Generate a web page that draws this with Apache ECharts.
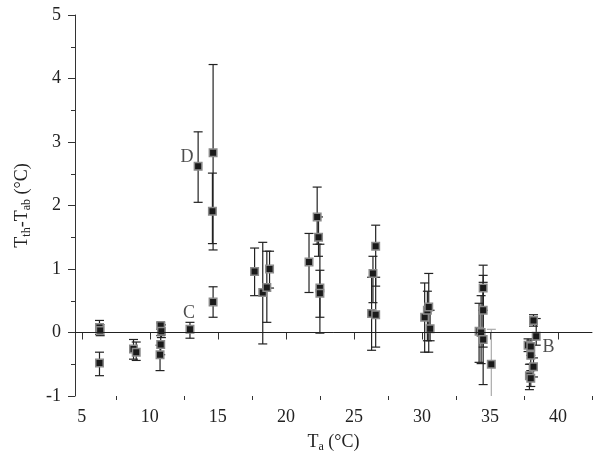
<!DOCTYPE html>
<html>
<head>
<meta charset="utf-8">
<script src="https://cdn.jsdelivr.net/npm/echarts@6/dist/echarts.min.js"></script>
<style>
  html, body { margin: 0; padding: 0; background: #fff; }
  #main { width: 601px; height: 465px; }
</style>
</head>
<body>
<div id="main"></div>
<script>
// ambient temperature (x)
var ta = [6.3, 6.35, 6.3, 8.8, 9.0, 10.8, 10.85, 10.8, 10.75, 12.95,
          13.55, 14.65, 14.6, 14.65, 17.7, 18.3, 18.6, 18.8, 21.7, 22.3,
          22.4, 22.5, 22.5, 26.6, 26.4, 26.3, 26.6, 30.2, 30.4, 30.5,
          30.6, 34.5, 34.5, 34.2, 34.35, 34.5, 38.2, 38.4, 37.8, 38.0,
          38.0, 38.2, 37.9, 38.0];
// Tth - Tab
var dT = [0.08, 0.03, -0.48, -0.26, -0.31, 0.11, 0.02, -0.19, -0.35, 0.05,
          2.62, 2.83, 1.91, 0.48, 0.96, 0.63, 0.71, 1.0, 1.11, 1.82,
          1.5, 0.7, 0.62, 1.36, 0.93, 0.30, 0.28, 0.24, 0.35, 0.40,
          0.06, 0.70, 0.35, 0.02, 0.00, -0.11, 0.19, -0.06, -0.20, -0.22,
          -0.36, -0.54, -0.68, -0.72];
// error bar ends
var errHigh = [0.19, 0.12, -0.31, -0.11, -0.15, 0.15, 0.12, -0.05, -0.2, 0.16,
               3.16, 4.22, 2.51, 0.72, 1.33, 1.42, 1.28, 1.28, 1.56, 2.29,
               1.82, 0.98, 1.39, 1.69, 1.2, 0.87, 0.87, 0.78, 0.65, 0.93,
               0.35, 1.06, 0.90, 0.46, 0.58, 0.79, 0.28, 0.22, -0.1, -0.12,
               -0.2, -0.4, -0.5, -0.6];
var errLow = [-0.03, -0.05, -0.68, -0.42, -0.44, 0.05, -0.08, -0.35, -0.6, -0.09,
              2.05, 1.3, 1.4, 0.24, 0.58, -0.18, 0.16, 0.7, 0.63, 1.39,
              1.2, 0.24, -0.01, 0.73, 0.47, -0.28, -0.23, -0.31, -0.13, -0.31,
              -0.13, 0.35, -0.82, -0.47, -0.49, -0.23, 0.1, -0.2, -0.3, -0.36,
              -0.5, -0.7, -0.9, -0.85];
// the one point drawn with a grey bar
var grayTa = [35.1];
var grayDT = [-0.5];
var grayHigh = [0.05];
var grayLow = [-1.3];
// point labels
var labelText = ['C', 'D', 'B'];
var labelTa = [12.88, 12.74, 39.3];
var labelDT = [0.30, 2.76, -0.24];

var xTicks = [5, 10, 15, 20, 25, 30, 35, 40];
var xMinorTicks = [7.5, 12.5, 17.5, 22.5, 27.5, 32.5, 37.5, 42.5];

var font = 'Liberation Serif';

function buildErr(xs, hi, lo) {
    var out = [];
    for (var i = 0; i < xs.length; i++) out.push([xs[i], lo[i], hi[i]]);
    return out;
}
function buildPts(xs, ys) {
    var out = [];
    for (var i = 0; i < xs.length; i++) out.push([xs[i], ys[i]]);
    return out;
}

function errorBar(color) {
    return function (params, api) {
        var x = api.value(0);
        var lo = api.coord([x, api.value(1)]);
        var hi = api.coord([x, api.value(2)]);
        var w = 4.5;
        var st = { stroke: color, lineWidth: 1.2 };
        return {
            type: 'group',
            children: [
                { type: 'line', shape: { x1: hi[0], y1: hi[1], x2: lo[0], y2: lo[1] }, style: st },
                { type: 'line', shape: { x1: hi[0] - w, y1: hi[1], x2: hi[0] + w, y2: hi[1] }, style: st },
                { type: 'line', shape: { x1: lo[0] - w, y1: lo[1], x2: lo[0] + w, y2: lo[1] }, style: st }
            ]
        };
    };
}

var labels = [];
for (var i = 0; i < labelText.length; i++) {
    labels.push({ value: [labelTa[i], labelDT[i]], name: labelText[i] });
}

var chart = echarts.init(document.getElementById('main'));
chart.setOption({
    backgroundColor: '#fff',
    animation: false,
    grid: { left: 75, right: 9, top: 15, bottom: 69 },
    xAxis: [{
        type: 'value',
        min: 4.5,
        max: 42.5,
        position: 'bottom',
        name: '{m|T}{s|a}{m| (°C)}',
        nameLocation: 'middle',
        nameGap: 36,
        nameTextStyle: {
            rich: {
                m: { fontFamily: font, fontSize: 18, color: '#222' },
                s: { fontFamily: font, fontSize: 12, color: '#222', padding: [9, 0, 0, 0] }
            }
        },
        splitLine: { show: false },
        axisLine: { lineStyle: { color: '#333', width: 1 } },
        axisTick: { length: 7, customValues: xTicks, lineStyle: { color: '#333' } },
        axisLabel: { customValues: xTicks, margin: 12, fontFamily: font, fontSize: 18, color: '#222' }
    }, {
        type: 'value',
        min: 4.5,
        max: 42.5,
        position: 'bottom',
        splitLine: { show: false },
        axisLine: { show: false },
        axisTick: { length: 4, customValues: xMinorTicks, lineStyle: { color: '#333' } },
        axisLabel: { show: false }
    }],
    yAxis: {
        type: 'value',
        min: -1,
        max: 5,
        interval: 1,
        name: '{m|T}{s|th}{m|-T}{s|ab}{m| (°C)}',
        nameLocation: 'middle',
        nameGap: 42,
        nameTextStyle: {
            rich: {
                m: { fontFamily: font, fontSize: 18, color: '#222' },
                s: { fontFamily: font, fontSize: 12, color: '#222', padding: [9, 0, 0, 0] }
            }
        },
        splitLine: { show: false },
        axisLine: { show: true, lineStyle: { color: '#333', width: 1 } },
        axisTick: { show: true, length: 7, lineStyle: { color: '#333' } },
        minorTick: { show: true, splitNumber: 2, length: 4, lineStyle: { color: '#333' } },
        axisLabel: { margin: 14, fontFamily: font, fontSize: 18, color: '#222' }
    },
    series: [
        {
            type: 'custom',
            name: 'error',
            renderItem: errorBar('#222'),
            data: buildErr(ta, errHigh, errLow),
            encode: { x: 0, y: [1, 2] },
            clip: true,
            z: 2
        },
        {
            type: 'custom',
            name: 'error grey',
            renderItem: errorBar('#aaa'),
            data: buildErr(grayTa, grayHigh, grayLow),
            encode: { x: 0, y: [1, 2] },
            clip: true,
            z: 2
        },
        {
            type: 'scatter',
            name: 'dT',
            symbol: 'rect',
            symbolSize: 7.5,
            data: buildPts(ta, dT).concat(buildPts(grayTa, grayDT)),
            itemStyle: { color: '#1a1a1a', borderColor: '#8a8a8a', borderWidth: 1.5, opacity: 1 },
            z: 3,
            markLine: {
                silent: true,
                symbol: 'none',
                label: { show: false },
                lineStyle: { color: '#222', width: 1, type: 'solid' },
                data: [{ yAxis: 0 }]
            }
        },
        {
            type: 'scatter',
            name: 'labels',
            symbolSize: 0,
            data: labels,
            label: {
                show: true,
                position: 'inside',
                formatter: '{b}',
                fontFamily: font,
                fontSize: 18,
                color: '#222'
            },
            z: 4
        }
    ]
});
</script>
</body>
</html>
